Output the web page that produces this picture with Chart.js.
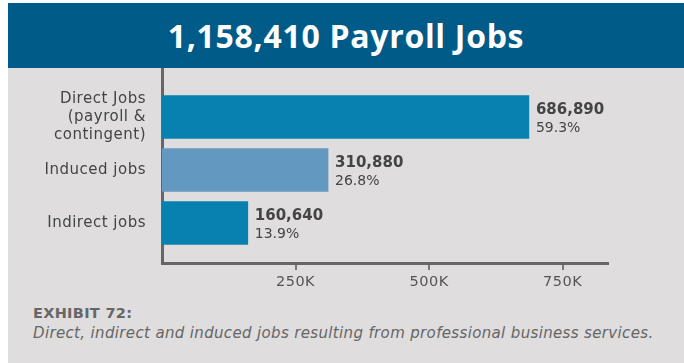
<!DOCTYPE html>
<html lang="en">
<head>
    <meta charset="UTF-8">
    <title>1,158,410 Payroll Jobs</title>
    <script src="https://cdn.jsdelivr.net/npm/chart.js"></script>
    <style>
        body { margin: 0; background: #fff; font-family: "DejaVu Sans", sans-serif; }
        .panel {
    position: absolute;
    left: 8px; top: 3px;
    width: 676px; height: 360px;
    background: #dfdddd;
}
.header {
    height: 65px;
    background: #005b88;
    color: #fff;
    font-family: "Open Sans", sans-serif;
    font-weight: 700;
    font-size: 32px;
    letter-spacing: 0.7px;
    line-height: 65px;
    text-align: center;
}
.chart-box { position: absolute; left: 0; top: 65px; width: 676px; height: 232px; }
.caption { position: absolute; left: 25px; top: 300px; color: #666; }
.caption .num { font-weight: 700; font-size: 14.5px; letter-spacing: 0.3px; line-height: 20px; }
.caption .txt { font-style: italic; font-size: 15px; letter-spacing: 0.35px; line-height: 20px; }
    </style>
</head>
<body>

<div class="panel">
    <div class="header">1,158,410 Payroll Jobs</div>
    <div class="chart-box"><canvas id="jobs_chart" width="676" height="232"></canvas></div>
    <div class="caption">
        <div class="num">EXHIBIT 72:</div>
        <div class="txt">Direct, indirect and induced jobs resulting from professional business services.</div>
    </div>
</div>

<script>
const categories = [['Direct Jobs', '(payroll &', 'contingent)'], 'Induced jobs', 'Indirect jobs'];
const jobs = [686890, 310880, 160640];
const shares = ['59.3%', '26.8%', '13.9%'];
const xTicks = [250000, 500000, 750000];

const barColors = ['#0881b0', '#6399c0', '#0881b0'];
const topGap = 0.925; // space above first bar, in rows
const yMax = 3.68;

// slightly wider letters, the original font is a wide geometric sans
const spacing = {
    id: 'spacing',
    beforeDraw(chart) { chart.ctx.letterSpacing = '0.5px'; }
};

// value + share labels to the right of each bar
const barLabels = {
    id: 'barLabels',
    afterDatasetsDraw(chart) {
        const ctx = chart.ctx;
        const meta = chart.getDatasetMeta(0);
        ctx.save();
        ctx.letterSpacing = '0px';
        ctx.textAlign = 'left';
        ctx.textBaseline = 'middle';
        ctx.fillStyle = '#444';
        meta.data.forEach((bar, i) => {
            const x = bar.x + 7;
            ctx.font = '700 15px "DejaVu Sans"';
            ctx.fillText(jobs[i].toLocaleString('en-US'), x, bar.y - 7);
            ctx.font = '400 14px "DejaVu Sans"';
            ctx.fillText(shares[i], x, bar.y + 11);
        });
        ctx.restore();
    }
};

new Chart(document.getElementById('jobs_chart'), {
    type: 'bar',
    data: {
        datasets: [{
            data: jobs.map((v, i) => ({ x: v, y: i + topGap })),
            backgroundColor: barColors,
            barThickness: 43
        }]
    },
    options: {
        indexAxis: 'y',
        responsive: false,
        animation: false,
        layout: { padding: { top: 0, right: 76, left: 0, bottom: 0 } },
        plugins: { legend: { display: false }, tooltip: { enabled: false } },
        scales: {
            x: {
                type: 'linear',
                min: 0,
                max: 835000,
                afterBuildTicks: axis => { axis.ticks = xTicks.map(v => ({ value: v })); },
                afterFit: axis => {
                    axis.height = 37;
                    axis.paddingLeft = 0;
                    axis.paddingRight = 0;
                },
                grid: { drawOnChartArea: false, tickLength: 7, color: '#777', lineWidth: 2 },
                border: { display: true, color: '#666', width: 3 },
                ticks: {
                    padding: 4,
                    color: '#555',
                    font: { family: 'DejaVu Sans', size: 14.5 },
                    callback: v => (v / 1000) + 'K'
                }
            },
            y: {
                type: 'linear',
                reverse: true,
                offset: false,
                min: 0,
                max: yMax,
                afterBuildTicks: axis => { axis.ticks = categories.map((c, i) => ({ value: i + topGap })); },
                afterFit: axis => {
                    axis.width = 154;
                    axis.paddingTop = 0;
                    axis.paddingBottom = 0;
                },
                grid: { display: false, drawTicks: false },
                border: { display: true, color: '#666', width: 3 },
                ticks: {
                    padding: 16,
                    color: '#444',
                    font: { family: 'DejaVu Sans', size: 15, lineHeight: 1.22 },
                    callback: (v, i) => categories[i]
                }
            }
        }
    },
    plugins: [spacing, barLabels]
});
</script>

</body>
</html>
